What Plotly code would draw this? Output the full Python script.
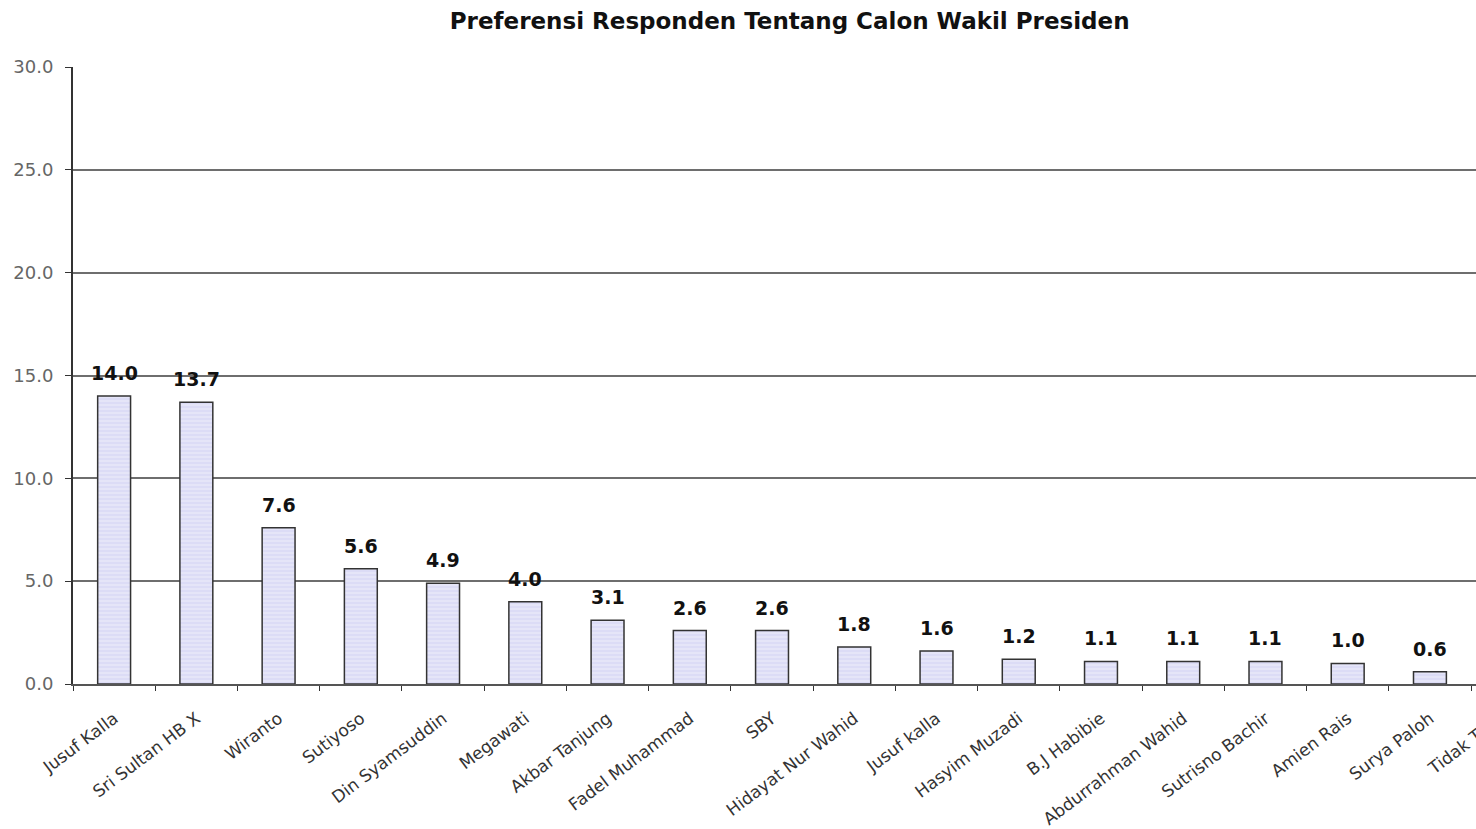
import plotly.graph_objects as go

title_text = "Preferensi Responden Tentang Calon Wakil Presiden"
categories = ["Jusuf Kalla", "Sri Sultan HB X", "Wiranto", "Sutiyoso", "Din Syamsuddin",
              "Megawati", "Akbar Tanjung", "Fadel Muhammad", "SBY", "Hidayat Nur Wahid",
              "Jusuf kalla", "Hasyim Muzadi", "B.J Habibie", "Abdurrahman Wahid",
              "Sutrisno Bachir", "Amien Rais", "Surya Paloh", "Tidak Tahu"]
values = [14.0, 13.7, 7.6, 5.6, 4.9, 4.0, 3.1, 2.6, 2.6, 1.8, 1.6, 1.2, 1.1, 1.1, 1.1, 1.0, 0.6, None]
y_ticks = [0, 5, 10, 15, 20, 25, 30]

W, H = 1476, 829
ML, MR, MT, MB = 73, 0, 67, 145
x_range = [-0.5, 16.56]
FONT = "DejaVu Sans, Verdana, sans-serif"
TICK_ANGLE = -37
STANDOFF = 16
XFONT = 17

fig = go.Figure()
fig.add_trace(go.Bar(
    x=categories, y=values,
    width=0.4,
    marker=dict(color="#DCDCF6", line=dict(color="#333333", width=1.5),
                pattern=dict(shape="-", fgcolor="#FFFFFF", size=4, solidity=0.25)),
    hoverinfo="x+y",
))

# value labels above the bars
for c, v in zip(categories, values):
    if v is None:
        continue
    fig.add_annotation(x=c, y=v, xref="x", yref="y", text=f"<b>{v:.1f}</b>",
                       showarrow=False, yanchor="bottom", yshift=10,
                       font=dict(family=FONT, size=19, color="#111111"))

# label of the last category, which lies beyond the visible right edge
last_idx = len(categories) - 1
plot_h = H - MT - MB
x_paper = (last_idx - x_range[0]) / (x_range[1] - x_range[0])
fig.add_annotation(x=x_paper, xref="paper", y=-(5 + STANDOFF) / plot_h, yref="paper",
                   text=categories[last_idx], textangle=TICK_ANGLE, showarrow=False,
                   xanchor="right", yanchor="top",
                   font=dict(family=FONT, size=XFONT, color="#333333"))

fig.update_layout(
    width=W, height=H,
    margin=dict(l=ML, r=MR, t=MT, b=MB),
    paper_bgcolor="white", plot_bgcolor="white",
    showlegend=False,
    title=dict(text=f"<b>{title_text}</b>", x=0.535, xanchor="center", y=0.975, yanchor="middle",
               font=dict(family=FONT, size=23, color="#111111")),
    xaxis=dict(type="category", range=x_range, tickangle=TICK_ANGLE, tickson="boundaries",
               ticks="outside", ticklen=5, tickcolor="#333333", ticklabelstandoff=STANDOFF,
               showline=True, linecolor="#555555", linewidth=2, showgrid=False,
               tickfont=dict(family=FONT, size=XFONT, color="#333333")),
    yaxis=dict(range=[0, 30], tickvals=y_ticks, tickformat=".1f",
               ticks="outside", ticklen=6, tickcolor="#333333", ticklabelstandoff=8,
               showline=True, linecolor="#333333", linewidth=2,
               showgrid=True, gridcolor="#6E6E6E", gridwidth=2, zeroline=False,
               tickfont=dict(family=FONT, size=18, color="#666666")),
)

fig.write_html("out.html")
